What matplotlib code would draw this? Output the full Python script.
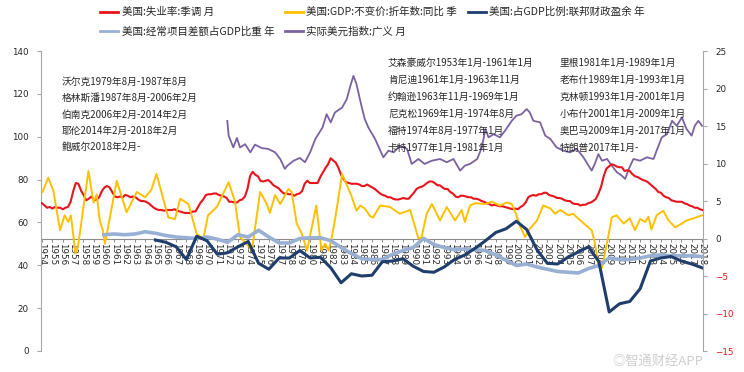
import numpy as np
import matplotlib
matplotlib.use('Agg')
import matplotlib.pyplot as plt
from matplotlib.lines import Line2D

plt.rcParams['font.family'] = ['Noto Sans CJK SC', 'DejaVu Sans']

# ---------------- data ----------------
year_labels = list(range(1954, 2019))

# unemployment rate (quarterly, right axis)
unemp = [4.7, 4.4, 4.1, 4.2, 4.0, 4.2, 4.1, 4.1, 3.9, 4.1, 4.2, 4.9, 6.3, 7.4, 7.3, 6.4,
         5.8, 5.1, 5.3, 5.6, 5.1, 5.2, 5.5, 6.3, 6.8, 7.0, 6.8, 6.2, 5.6, 5.5, 5.6, 5.5,
         5.8, 5.7, 5.5, 5.6, 5.5, 5.2, 5.0, 5.0, 4.9, 4.7, 4.4, 4.1, 3.9, 3.8, 3.8, 3.7,
         3.8, 3.8, 3.8, 3.9, 3.7, 3.6, 3.5, 3.4, 3.4, 3.4, 3.6, 3.6, 4.2, 4.8, 5.2, 5.8,
         5.9, 5.9, 6.0, 6.0, 5.8, 5.7, 5.6, 5.4, 4.9, 4.9, 4.8, 4.8, 5.1, 5.2, 5.6, 6.6,
         8.3, 8.9, 8.5, 8.3, 7.7, 7.6, 7.7, 7.8, 7.5, 7.1, 6.9, 6.7, 6.3, 6.0, 6.0, 5.9,
         5.9, 5.7, 5.9, 6.0, 6.3, 7.3, 7.7, 7.4, 7.4, 7.4, 7.4, 8.2, 8.8, 9.4, 9.9, 10.7,
         10.4, 10.1, 9.4, 8.5, 7.9, 7.5, 7.4, 7.3, 7.3, 7.3, 7.2, 7.0, 7.0, 7.2, 7.0, 6.8,
         6.6, 6.3, 6.0, 5.8, 5.7, 5.5, 5.5, 5.3, 5.2, 5.2, 5.3, 5.4, 5.3, 5.3, 5.7, 6.1,
         6.6, 6.8, 6.9, 7.1, 7.4, 7.6, 7.6, 7.4, 7.1, 7.1, 6.8, 6.6, 6.6, 6.2, 6.0, 5.6,
         5.5, 5.7, 5.7, 5.6, 5.5, 5.5, 5.3, 5.3, 5.2, 5.0, 4.9, 4.7, 4.6, 4.4, 4.5, 4.4,
         4.3, 4.3, 4.2, 4.1, 4.0, 3.9, 4.0, 3.9, 4.2, 4.4, 4.8, 5.5, 5.7, 5.8, 5.7, 5.9,
         5.9, 6.1, 6.1, 5.8, 5.7, 5.6, 5.4, 5.4, 5.3, 5.1, 5.0, 5.0, 4.7, 4.6, 4.6, 4.4,
         4.5, 4.5, 4.7, 4.8, 5.0, 5.3, 6.0, 6.9, 8.3, 9.3, 9.6, 9.9, 9.8, 9.6, 9.5, 9.5,
         9.0, 9.1, 9.0, 8.6, 8.3, 8.2, 8.0, 7.8, 7.7, 7.5, 7.2, 6.9, 6.6, 6.2, 6.1, 5.7,
         5.5, 5.4, 5.1, 5.0, 4.9, 4.9, 4.9, 4.7, 4.6, 4.4, 4.3, 4.1, 4.1, 3.9, 3.8]

# real GDP y/y (right axis)
gdp_x = [1954.05, 1954.6, 1955.1, 1955.75, 1956.2, 1956.55, 1956.8, 1957.25, 1957.5, 1958.5,
         1959.0, 1959.3, 1959.6, 1959.9, 1960.1, 1961.25, 1962.2, 1963.2, 1964.0, 1964.6,
         1965.1, 1966.25, 1966.9, 1967.4, 1968.2, 1969.0, 1969.65, 1970.1, 1970.95, 1971.4,
         1972.1, 1972.7, 1973.2, 1973.85, 1974.35, 1975.15, 1975.8, 1976.1, 1976.6, 1977.1,
         1977.9, 1978.2, 1978.7, 1979.2, 1979.7, 1980.6, 1981.1, 1981.45, 1981.8, 1982.1,
         1982.4, 1983.1, 1984.0, 1984.5, 1984.85, 1985.3, 1985.8, 1986.1, 1986.8, 1987.75,
         1988.7, 1989.7, 1990.5, 1990.8, 1991.3, 1991.8, 1992.6, 1993.25, 1994.05, 1994.7,
         1995.0, 1995.5, 1996.0, 1996.95, 1997.6, 1998.4, 1999.1, 1999.55, 1999.9, 2000.4,
         2000.85, 2001.3, 2002.0, 2002.6, 2003.3, 2003.75, 2004.25, 2005.05, 2005.5, 2006.2,
         2006.8, 2007.3, 2007.6, 2007.95, 2008.3, 2008.8, 2009.25, 2009.7, 2010.4, 2011.0,
         2011.5, 2012.0, 2012.5, 2012.8, 2013.1, 2013.6, 2014.25, 2014.75, 2015.4, 2016.05,
         2016.5, 2017.2, 2017.8, 2018.05]
gdp_y = [6.2, 8.1, 6.4, 1.1, 3.1, 2.2, 3.1, -2.0, -1.0, 9.0,
         4.8, 5.9, 2.4, 1.1, -0.7, 7.7, 3.5, 6.2, 5.5, 6.5,
         8.6, 2.8, 2.6, 5.3, 4.6, 0.6, 0.0, 3.1, 4.2, 5.5,
         7.5, 5.0, 0.2, -0.7, -1.6, 6.2, 4.6, 3.4, 5.8, 4.6,
         6.6, 6.2, 2.0, 0.6, -1.6, 4.4, -1.6, -0.7, -1.6, 0.2,
         2.4, 8.6, 5.7, 3.7, 4.4, 4.0, 3.0, 2.8, 4.4, 4.2,
         3.3, 3.8, 0.0, 0.1, 3.3, 4.6, 2.4, 4.2, 2.4, 3.8,
         2.2, 4.4, 4.7, 4.6, 4.9, 4.4, 4.8, 4.6, 3.5, 1.5,
         0.2, 1.3, 2.4, 4.4, 4.0, 3.3, 3.8, 3.1, 3.3, 2.4,
         1.7, 1.1, -0.5, -3.4, -3.9, -0.5, 2.8, 3.1, 2.0, 2.7,
         1.1, 2.6, 2.2, 2.9, 1.2, 3.1, 3.7, 2.4, 1.5, 2.0,
         2.4, 2.7, 3.0, 3.1]

# federal fiscal balance % GDP (annual, right axis)
fiscal_years = list(range(1965, 2019))
fiscal = [-0.2, -0.5, -1.1, -2.8, 0.3, -0.3, -2.1, -1.9, -1.1, -0.4,
          -3.3, -4.1, -2.6, -2.6, -1.6, -2.6, -2.5, -3.9, -5.9, -4.7,
          -5.0, -4.9, -3.1, -3.0, -2.7, -3.7, -4.4, -4.5, -3.8, -2.8,
          -2.2, -1.3, -0.3, 0.8, 1.3, 2.3, 1.2, -1.5, -3.3, -3.4,
          -2.5, -1.8, -1.1, -3.1, -9.8, -8.7, -8.4, -6.7, -3.0, -2.6,
          -2.4, -3.0, -3.4, -3.9]

# current account % GDP (annual, right axis)
ca_years = list(range(1960, 2019))
ca = [0.5, 0.6, 0.5, 0.6, 0.9, 0.7, 0.4, 0.2, 0.1, 0.0,
      0.2, -0.1, -0.5, 0.5, 0.2, 1.1, 0.2, -0.6, -0.6, 0.0,
      0.1, 0.1, -0.3, -1.2, -2.0, -2.7, -2.8, -2.8, -2.1, -1.6,
      -1.2, 0.0, -0.8, -1.2, -1.5, -1.4, -1.5, -1.6, -2.2, -2.9,
      -3.6, -3.4, -3.8, -4.1, -4.4, -4.5, -4.6, -4.0, -3.6, -2.6,
      -2.8, -2.8, -2.6, -2.3, -2.2, -2.3, -2.3, -2.3, -2.4]

# real broad dollar index (left axis)
usd_x = [1971.97, 1972.1, 1972.55, 1972.9, 1973.2, 1973.7, 1974.2, 1974.65, 1975.3, 1975.95,
         1976.6, 1977.1, 1977.55, 1977.8, 1978.4, 1979.0, 1979.5, 1980.0, 1980.5, 1980.8,
         1981.2, 1981.6, 1982.0, 1982.4, 1983.1, 1983.55, 1983.9, 1984.2, 1984.5, 1984.85,
         1985.1, 1985.3, 1985.65, 1986.3, 1987.1, 1987.6, 1988.1, 1988.7, 1989.4, 1989.85,
         1990.5, 1991.1, 1991.8, 1992.6, 1993.25, 1993.9, 1994.55, 1995.0, 1995.5, 1996.2,
         1996.65, 1997.0, 1997.3, 1997.8, 1998.4, 1998.9, 1999.55, 2000.0, 2000.5, 2001.0,
         2001.3, 2001.65, 2002.3, 2002.8, 2003.3, 2003.9, 2004.55, 2005.2, 2005.85, 2006.5,
         2007.0, 2007.3, 2007.6, 2007.95, 2008.3, 2008.8, 2009.25, 2009.75, 2010.2, 2010.55,
         2010.9, 2011.35, 2012.0, 2012.65, 2013.3, 2013.6, 2014.1, 2014.6, 2015.1, 2015.55,
         2016.05, 2016.5, 2017.0, 2017.3, 2017.65, 2018.0]
usd_y = [107.4, 100.5, 95.0, 99.4, 95.0, 96.5, 92.7, 96.3, 94.7, 94.3,
         92.7, 89.6, 85.0, 86.5, 88.8, 90.1, 88.1, 92.7, 98.9, 101.2,
         104.3, 110.5, 106.7, 111.3, 113.6, 117.5, 123.7, 128.4, 124.5, 117.0,
         112.0, 108.2, 104.3, 98.9, 90.4, 93.5, 92.7, 95.8, 94.3, 87.3,
         89.6, 87.3, 88.8, 89.6, 88.1, 89.6, 84.2, 86.5, 87.3, 89.6,
         95.0, 103.6, 99.7, 101.2, 99.7, 102.8, 107.4, 109.8, 110.5, 112.9,
         111.3, 107.4, 106.7, 100.5, 98.9, 95.0, 93.5, 92.7, 94.3, 90.4,
         86.5, 84.2, 87.3, 91.9, 88.8, 89.6, 86.5, 83.4, 81.9, 80.3,
         85.0, 89.6, 88.8, 90.4, 89.6, 93.5, 99.7, 101.2, 107.4, 105.1,
         109.0, 103.6, 100.5, 105.1, 107.4, 105.1]

labels = ['美国:失业率:季调 月', '美国:GDP:不变价:折年数:同比 季', '美国:占GDP比例:联邦财政盈余 年',
          '美国:经常项目差额占GDP比重 年', '实际美元指数:广义 月']

fed_chairs = ['沃尔克1979年8月-1987年8月', '格林斯潘1987年8月-2006年2月', '伯南克2006年2月-2014年2月',
              '耶伦2014年2月-2018年2月', '鲍威尔2018年2月-']
presidents_a = ['艾森豪威尔1953年1月-1961年1月', '肯尼迪1961年1月-1963年11月', '约翰逊1963年11月-1969年1月',
                '尼克松1969年1月-1974年8月', '福特1974年8月-1977年1月', '卡特1977年1月-1981年1月']
presidents_b = ['里根1981年1月-1989年1月', '老布什1989年1月-1993年1月', '克林顿1993年1月-2001年1月',
                '小布什2001年1月-2009年1月', '奥巴马2009年1月-2017年1月', '特朗普2017年1月-']

# ---------------- styles ----------------
C_RED = '#E8141C'
C_YEL = '#FFC000'
C_DBL = '#1F3E6C'
C_LBL = '#98B0D4'
C_PUR = '#7A62A0'
AX_COL = '#A6A6A6'
TXT = '#262626'

W, H = 744, 372
fig = plt.figure(figsize=(W / 100, H / 100), dpi=100)
ax = fig.add_axes([41 / W, 1 - 351 / H, (703 - 41) / W, 300 / H])
ax2 = ax.twinx()

ax.set_xlim(1954 - 1 / 10.3125, 2018 + 1 / 10.3125)
ax.set_ylim(0, 140)
ax2.set_ylim(-15, 25)

# lines
ax.plot(usd_x, usd_y, color=C_PUR, lw=1.3, zorder=3)
ux = np.linspace(1954.0, 2018.05, len(unemp))
ax2.plot(ux, unemp, color=C_RED, lw=1.5, zorder=3)
ax2.plot(gdp_x, gdp_y, color=C_YEL, lw=1.4, zorder=3)
ax2.plot(ca_years, ca, color=C_LBL, lw=2.6, zorder=3)
ax2.plot(fiscal_years, fiscal, color=C_DBL, lw=2.2, zorder=4)

# spines
for a in (ax, ax2):
    a.spines['top'].set_visible(False)
ax.spines['right'].set_visible(False)
ax2.spines['left'].set_visible(False)
ax2.spines['bottom'].set_visible(False)
ax.spines['left'].set_color(AX_COL)
ax2.spines['right'].set_color(AX_COL)
ax.spines['bottom'].set_position(('axes', 15 / 40))
ax.spines['bottom'].set_color('#8C8C8C')
ax.spines['bottom'].set_zorder(1)

ax.set_yticks(range(0, 141, 20))
ax2.set_yticks(range(-15, 26, 5))
ax.tick_params(axis='y', colors=AX_COL, length=3, width=0.8, labelsize=6.3, labelcolor=TXT, pad=6)
ax2.tick_params(axis='y', colors=AX_COL, length=3, width=0.8, labelsize=6.3, labelcolor=TXT, pad=6)
for lab in ax.get_yticklabels():
    lab.set_family('DejaVu Sans')
for lab, v in zip(ax2.get_yticklabels(), range(-15, 26, 5)):
    lab.set_family('DejaVu Sans')
    lab.set_color('#E8141C' if v < 0 else TXT)

ax.set_xticks(year_labels)
ax.set_xticklabels([str(y) for y in year_labels], rotation=270, fontsize=6.3,
                   family='DejaVu Sans', color=TXT)
ax.tick_params(axis='x', colors='#8C8C8C', length=2.5, width=0.7, pad=1, labelcolor=TXT)
ax2.tick_params(axis='x', bottom=False, labelbottom=False)

# legend (row-wise order within 3 columns)
handles = [Line2D([], [], color=c, lw=2) for c in (C_RED, C_YEL, C_DBL, C_LBL, C_PUR)]
order = [0, 3, 1, 4, 2]
fig.legend([handles[i] for i in order], [labels[i] for i in order], ncol=3,
           loc='upper left', bbox_to_anchor=(100 / W, 1 - 7 / H), frameon=False,
           fontsize=7.6, handlelength=1.75, handletextpad=0.3, columnspacing=1.0,
           labelspacing=0.85, borderpad=0, borderaxespad=0, labelcolor=TXT)

# annotations
for i, t in enumerate(fed_chairs):
    fig.text(62 / W, 1 - (82 + 16.3 * i) / H, t, fontsize=7, color=TXT, ha='left', va='center')
for i, t in enumerate(presidents_a):
    fig.text(388 / W, 1 - (63 + 17 * i) / H, t, fontsize=7, color=TXT, ha='left', va='center')
for i, t in enumerate(presidents_b):
    fig.text(560 / W, 1 - (63 + 17 * i) / H, t, fontsize=7, color=TXT, ha='left', va='center')

# watermark
fig.text(703 / W, 1 - 361 / H, '◎智通财经APP', fontsize=9.5, color='#C8C8C8',
         ha='right', va='center', alpha=0.9)

fig.savefig('out.png', dpi=100)
